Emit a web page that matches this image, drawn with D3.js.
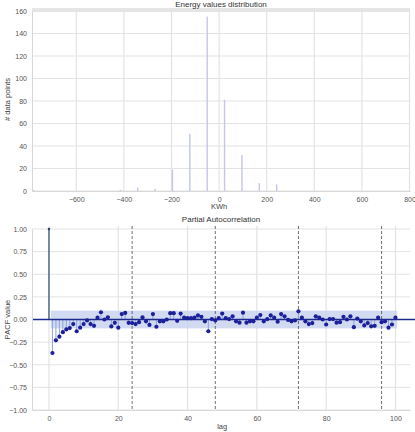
<!DOCTYPE html>
<html><head><meta charset="utf-8">
<script src="https://cdn.jsdelivr.net/npm/d3@7"></script>
<style>
body{margin:0;background:#fff;}
text{font-family:"Liberation Sans",Arial,sans-serif;}
</style></head>
<body>
<svg id="chart" width="415" height="432"></svg>
<script>
// ---- Data: histogram of energy values ----
const binCenters = [-780, -707, -634, -561, -488, -415, -342, -269, -196, -123, -50, 23, 96, 169, 242, 315, 388, 461, 534, 607, 680, 753];
const binCounts  = [1, 0, 0, 0, 0, 1, 3, 2, 19, 51, 155, 81, 32, 7, 6, 0, 0, 0, 0, 0, 0, 0];
const histXTicks = [-600, -400, -200, 0, 200, 400, 600, 800];
const histYTicks = [0, 20, 40, 60, 80, 100, 120, 140, 160];

// ---- Data: partial autocorrelation ----
const lags = d3.range(0, 101);
const pacfValues = [1.00,
 -0.37, -0.23, -0.19, -0.14, -0.11, -0.095, -0.05, -0.13, -0.09, -0.05,
 -0.01, -0.05, -0.07, 0.02, 0.08, 0.00, 0.025, -0.077, -0.037, -0.09,
 0.06, 0.073, -0.037, -0.04, -0.05, -0.03, 0.025, -0.02, -0.06, 0.06,
 -0.08, -0.02, -0.02, 0.00, 0.07, 0.07, -0.015, 0.065, 0.02, 0.015,
 0.015, 0.02, 0.045, 0.03, -0.02, -0.13, 0.005, -0.01, 0.015, 0.065,
 0.015, 0.005, 0.035, -0.02, -0.035, 0.075, -0.035, -0.02, -0.02, 0.02,
 0.05, -0.02, 0.005, 0.045, 0.02, -0.025, 0.06, 0.035, -0.005, -0.02,
 -0.01, 0.09, 0.02, -0.02, -0.05, -0.04, 0.035, 0.02, 0.00, -0.055,
 0.005, 0.005, -0.035, -0.03, 0.03, 0.00, 0.035, -0.085, 0.01, -0.02,
 -0.065, -0.04, -0.075, -0.07, 0.02, -0.03, -0.02, -0.09, -0.055, 0.02];
const confBound = 0.098;
const seasonalLags = [24, 48, 72, 96];
const pacfXTicks = [0, 20, 40, 60, 80, 100];
const pacfYTicks = [-1, -0.75, -0.5, -0.25, 0, 0.25, 0.5, 0.75, 1];

const svg = d3.select("#chart");
const gridColor = "#e3e3e3";
const tickColor = "#555";

// ================= Top chart =================
const t = {left: 32, right: 410, top: 8, bottom: 191};
const hx = d3.scaleLinear().domain([-786, 802]).range([t.left, t.right]);
const hy = d3.scaleLinear().domain([0, 160]).range([t.bottom, 11]);

const gTop = svg.append("g");
gTop.append("rect").attr("x", t.left).attr("y", t.top).attr("width", t.right - t.left).attr("height", 4).attr("fill", "#e6e6e6");
gTop.append("g").selectAll("line").data(histYTicks).join("line")
  .attr("x1", t.left).attr("x2", t.right).attr("y1", d => hy(d)).attr("y2", d => hy(d))
  .attr("stroke", gridColor).attr("stroke-width", 1);
gTop.append("g").selectAll("line").data(histXTicks).join("line")
  .attr("x1", d => hx(d)).attr("x2", d => hx(d)).attr("y1", t.top).attr("y2", t.bottom)
  .attr("stroke", gridColor).attr("stroke-width", 1.2);

// bars
gTop.append("g").selectAll("rect").data(binCenters.map((c, i) => ({c, n: binCounts[i]})).filter(d => d.n > 0)).join("rect")
  .attr("x", d => hx(d.c) - 0.7).attr("width", 1.4)
  .attr("y", d => hy(d.n)).attr("height", d => hy(0) - hy(d.n))
  .attr("fill", "#c3c7ea");

// axes
const hxAxis = gTop.append("g").attr("transform", `translate(0,${t.bottom})`)
  .call(d3.axisBottom(hx).tickValues(histXTicks).tickSize(0).tickPadding(6));
const hyAxis = gTop.append("g").attr("transform", `translate(${t.left},0)`)
  .call(d3.axisLeft(hy).tickValues(histYTicks).tickSize(0).tickPadding(5));
[hxAxis, hyAxis].forEach(a => {
  a.select(".domain").attr("stroke", "#d8d8d8");
  a.selectAll("text").attr("fill", tickColor).attr("font-size", 7).attr("font-family", "Liberation Sans, Arial, sans-serif");
});
gTop.append("text").attr("x", (t.left + t.right) / 2).attr("y", 7).attr("text-anchor", "middle")
  .attr("font-size", 8).attr("fill", "#333").text("Energy values distribution");
gTop.append("text").attr("x", hx(0)).attr("y", 209).attr("text-anchor", "middle")
  .attr("font-size", 7.5).attr("fill", "#444").text("KWh");
gTop.append("text").attr("transform", `translate(10,${(t.top + t.bottom) / 2}) rotate(-90)`).attr("text-anchor", "middle")
  .attr("font-size", 7.5).attr("fill", "#444").text("# data points");

// ================= Bottom chart =================
const b = {left: 32, right: 410, top: 226, bottom: 410};
const px = d3.scaleLinear().domain([-4.9, 104.2]).range([b.left, b.right]);
const py = d3.scaleLinear().domain([-1, 1]).range([b.bottom, 229]);

const gBot = svg.append("g");
gBot.append("g").selectAll("line").data(pacfYTicks).join("line")
  .attr("x1", b.left).attr("x2", b.right).attr("y1", d => py(d)).attr("y2", d => py(d))
  .attr("stroke", gridColor).attr("stroke-width", 1);
gBot.append("g").selectAll("line").data(pacfXTicks).join("line")
  .attr("x1", d => px(d)).attr("x2", d => px(d)).attr("y1", b.top).attr("y2", b.bottom)
  .attr("stroke", gridColor).attr("stroke-width", 1.2);

// confidence band
gBot.append("rect").attr("x", px(0.5)).attr("width", px(100.5) - px(0.5))
  .attr("y", py(confBound)).attr("height", py(-confBound) - py(confBound))
  .attr("fill", "#c9d3ef").attr("opacity", 0.85);

// seasonal dashed lines
gBot.append("g").selectAll("line").data(seasonalLags).join("line")
  .attr("x1", d => px(d)).attr("x2", d => px(d)).attr("y1", b.top).attr("y2", b.bottom)
  .attr("stroke", "#333").attr("stroke-width", 0.7).attr("stroke-dasharray", "3,2");

// stems
const pts = lags.map((l, i) => ({l, v: pacfValues[i]}));
gBot.append("g").selectAll("line").data(pts).join("line")
  .attr("x1", d => px(d.l)).attr("x2", d => px(d.l)).attr("y1", py(0)).attr("y2", d => py(d.v))
  .attr("stroke", d => d.l === 0 ? "#3b5672" : "#8da3dc").attr("stroke-width", d => d.l === 0 ? 1.3 : 1);

// zero line
gBot.append("line").attr("x1", b.left).attr("x2", 415).attr("y1", py(0)).attr("y2", py(0))
  .attr("stroke", "#1c2a8c").attr("stroke-width", 1.4);

// markers
gBot.append("g").selectAll("circle").data(pts).join("circle")
  .attr("cx", d => px(d.l)).attr("cy", d => py(d.v)).attr("r", d => d.l === 0 ? 1.2 : 2.1)
  .attr("fill", d => d.l === 0 ? "#2a3f66" : "#1b1f9a");

const pxAxis = gBot.append("g").attr("transform", `translate(0,${b.bottom})`)
  .call(d3.axisBottom(px).tickValues(pacfXTicks).tickSize(0).tickPadding(6));
const pyAxis = gBot.append("g").attr("transform", `translate(${b.left},0)`)
  .call(d3.axisLeft(py).tickValues(pacfYTicks).tickFormat(d3.format(".2f")).tickSize(0).tickPadding(5));
[pxAxis, pyAxis].forEach(a => {
  a.select(".domain").attr("stroke", "#d8d8d8");
  a.selectAll("text").attr("fill", tickColor).attr("font-size", 7).attr("font-family", "Liberation Sans, Arial, sans-serif");
});
gBot.append("text").attr("x", (b.left + b.right) / 2).attr("y", 222).attr("text-anchor", "middle")
  .attr("font-size", 8).attr("fill", "#333").text("Partial Autocorrelation");
gBot.append("text").attr("x", px(50)).attr("y", 429).attr("text-anchor", "middle")
  .attr("font-size", 7.5).attr("fill", "#444").text("lag");
gBot.append("text").attr("transform", `translate(10,${py(0)}) rotate(-90)`).attr("text-anchor", "middle")
  .attr("font-size", 7.5).attr("fill", "#444").text("PACF value");
</script>
</body></html>
